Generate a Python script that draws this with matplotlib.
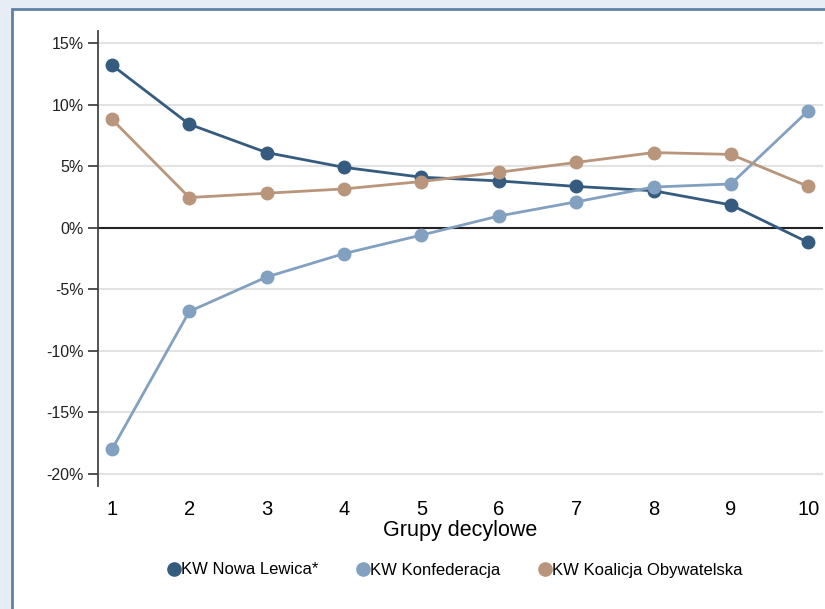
import matplotlib
matplotlib.use("Agg")
import matplotlib.pyplot as plt
from matplotlib.patches import Rectangle
from matplotlib.lines import Line2D

deciles = [1, 2, 3, 4, 5, 6, 7, 8, 9, 10]
nowa_lewica = [13.2, 8.4, 6.1, 4.9, 4.1, 3.8, 3.35, 3.0, 1.85, -1.2]
konfederacja = [-18.0, -6.8, -4.0, -2.1, -0.6, 0.95, 2.1, 3.3, 3.55, 9.5]
koalicja = [8.8, 2.45, 2.8, 3.15, 3.75, 4.5, 5.3, 6.1, 5.95, 3.35]
yticks = [15, 10, 5, 0, -5, -10, -15, -20]
labels = ["KW Nowa Lewica*", "KW Konfederacja", "KW Koalicja Obywatelska"]
colors = ["#355b7f", "#82a0bf", "#b8957b"]

fig = plt.figure(figsize=(8.25, 6.09), dpi=100)
fig.patch.set_facecolor("#e6edf5")
bg = Rectangle((12/825, -0.05), 1.0, 1 - 9/609 + 0.05,
               transform=fig.transFigure, facecolor="white",
               edgecolor="#5f82a6", linewidth=2.0, zorder=-10)
fig.patches.append(bg)

ax = fig.add_axes([98/825, 1 - 486/609, (823 - 98)/825, (486 - 31)/609], zorder=5)
ax.set_facecolor("none")
ax.set_xlim(0.82, 10.19)
ax.set_ylim(-20.97, 15.97)

for yt in yticks:
    ax.axhline(yt, color="#e3e3e3", linewidth=1.5, zorder=1)
ax.axhline(0, color="#222222", linewidth=1.5, zorder=2)

for vals, c, lab in zip([nowa_lewica, konfederacja, koalicja], colors, labels):
    ax.plot(deciles, vals, color=c, linewidth=2.0, marker="o", markersize=9,
            label=lab, zorder=3)

for s in ["top", "right", "bottom"]:
    ax.spines[s].set_visible(False)
ax.spines["left"].set_color("#444444")
ax.spines["left"].set_linewidth(1.3)

ax.set_yticks(yticks)
ax.set_yticklabels([f"{v}%" for v in yticks], fontsize=11.5, color="#222222",
                   family="Liberation Sans")
ax.tick_params(axis="y", length=7, width=1.3, color="#444444", pad=3)
ax.set_xticks(deciles)
ax.set_xticklabels([str(d) for d in deciles], fontsize=14.5, family="Liberation Sans")
ax.tick_params(axis="x", length=0, pad=10)
ax.set_xlabel("Grupy decylowe", fontsize=15.5, family="Liberation Sans", labelpad=1)

handles = [Line2D([], [], color=c, marker="o", linestyle="none", markersize=9.5)
           for c in colors]
fig.legend(handles, labels, loc="center", bbox_to_anchor=(0.5515, 1 - 570/609),
           ncol=3, frameon=False, handletextpad=0.0, columnspacing=2.3,
           handlelength=0.8,
           prop={"family": "Liberation Sans", "size": 12})

fig.savefig("out.png", dpi=100, facecolor=fig.get_facecolor())
